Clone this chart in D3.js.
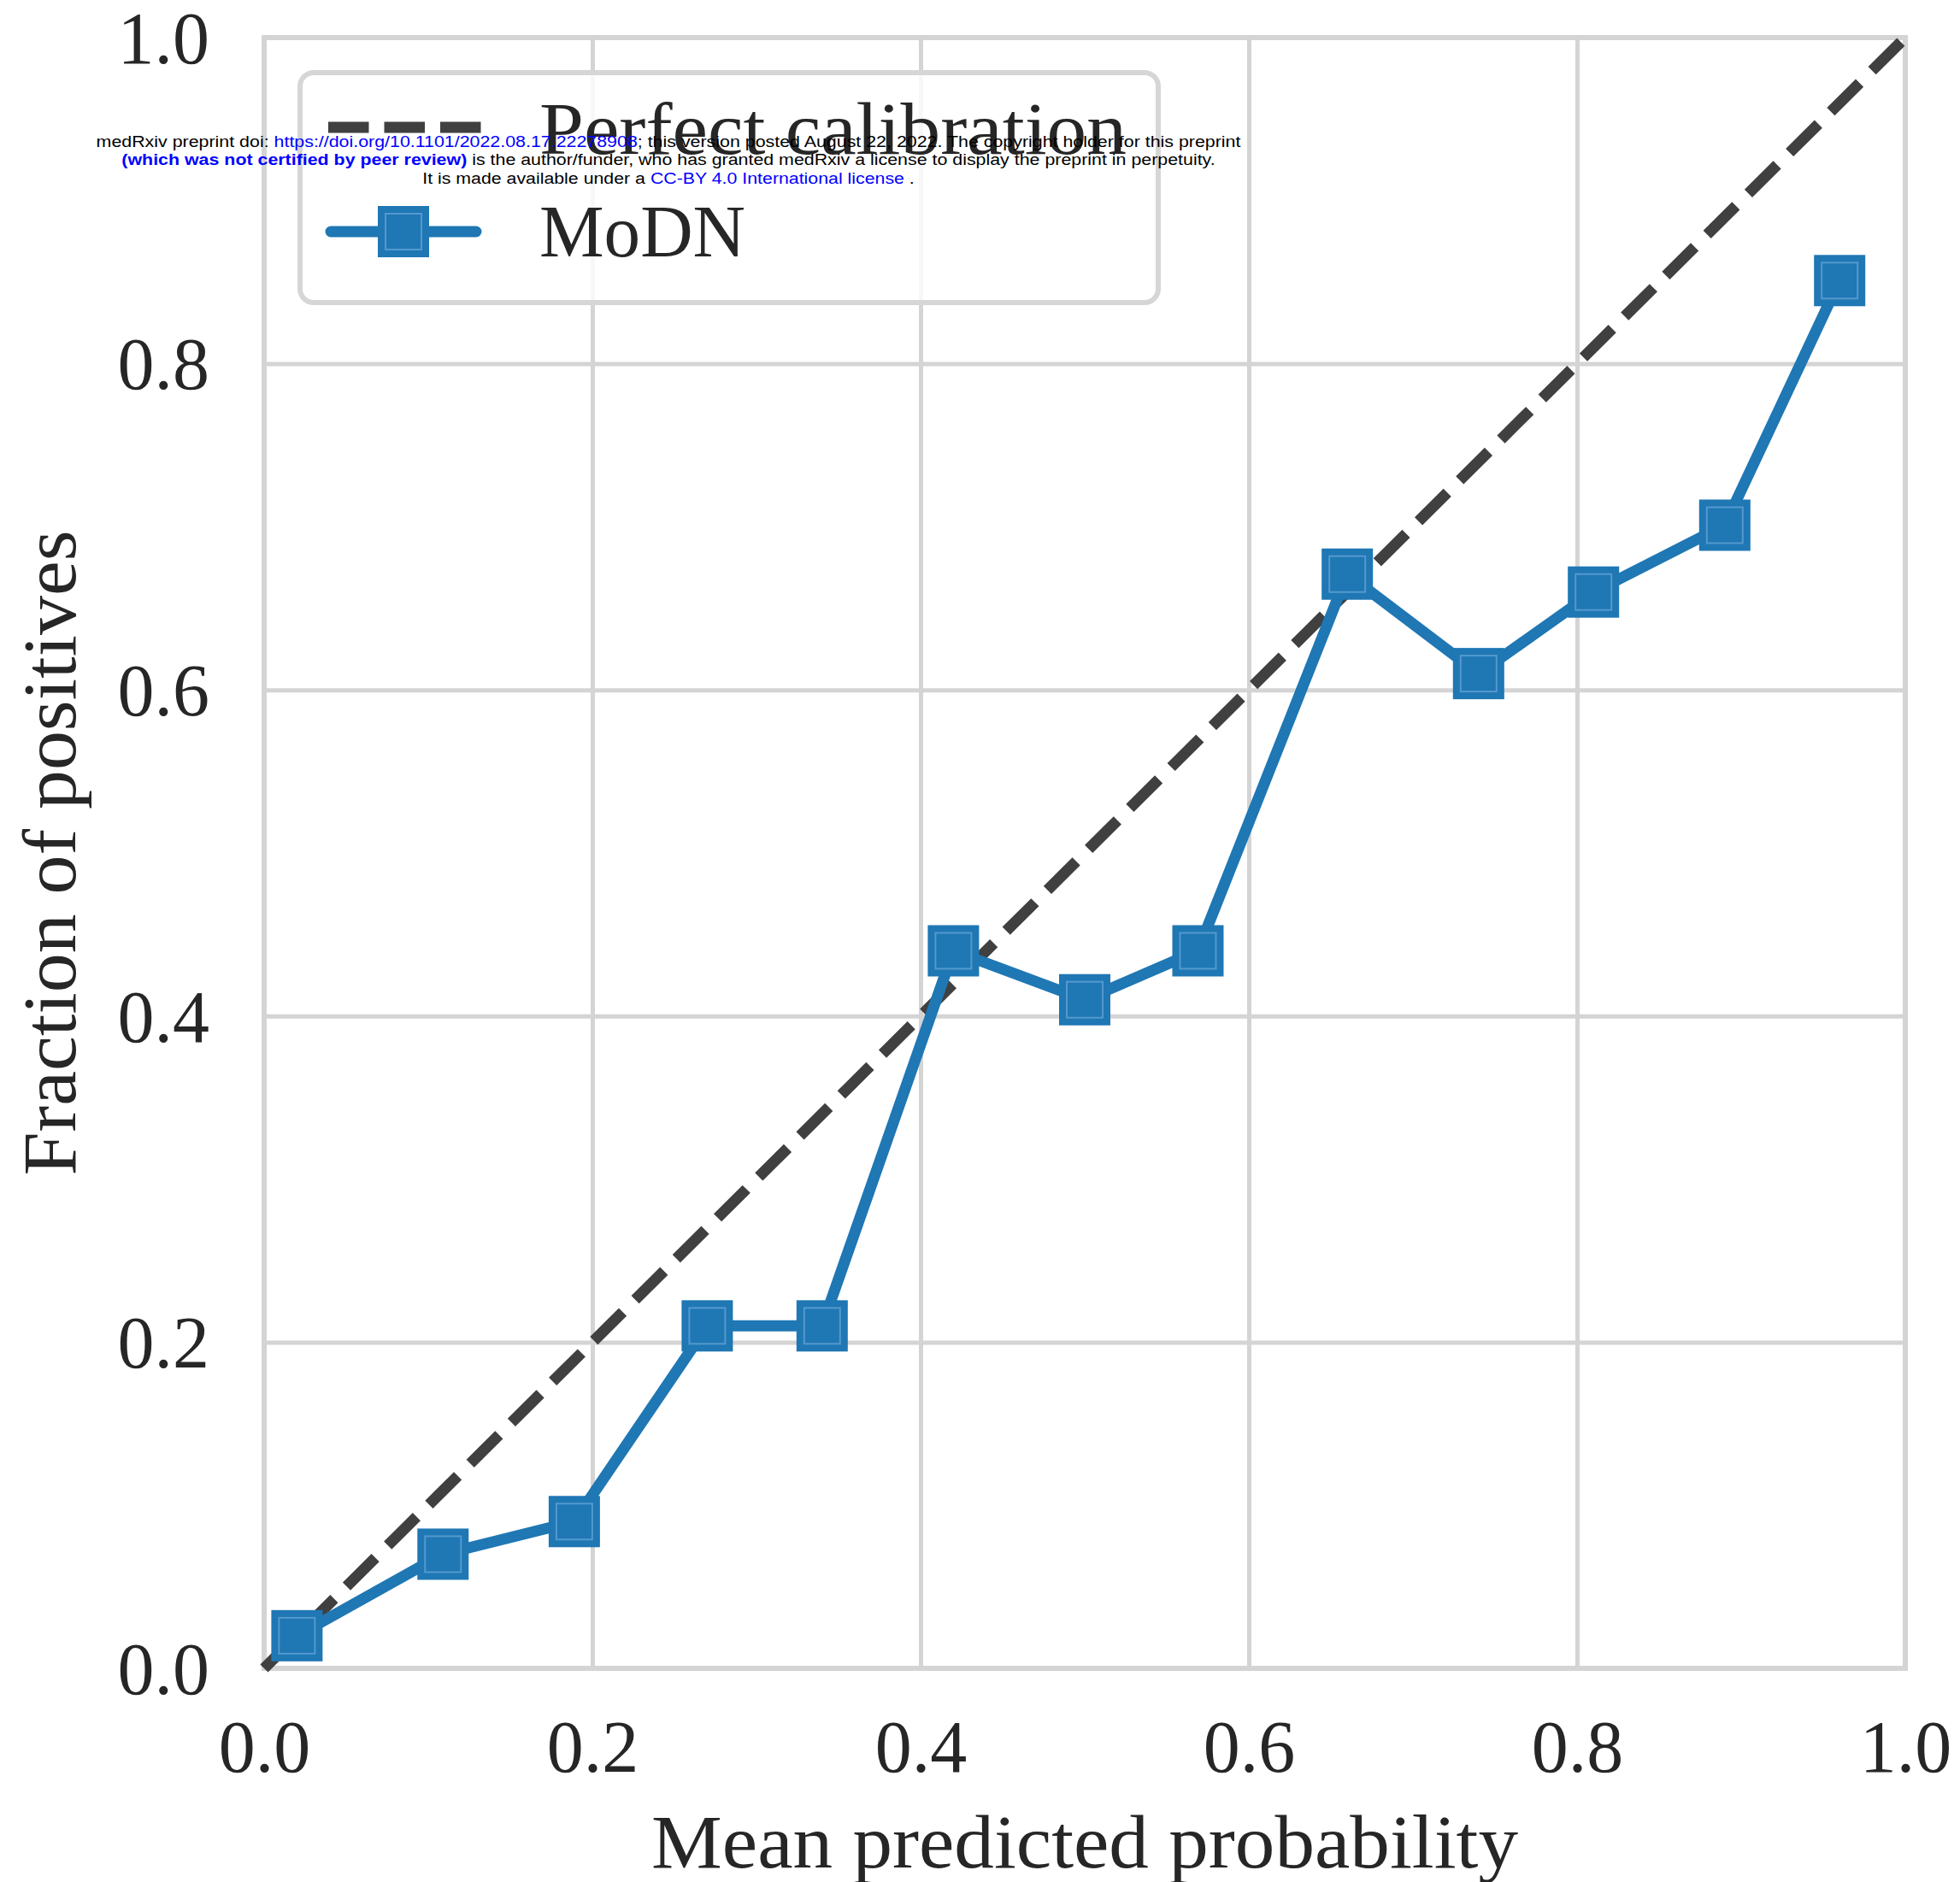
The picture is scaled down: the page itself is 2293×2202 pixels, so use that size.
<!DOCTYPE html>
<html>
<head>
<meta charset="utf-8">
<script src="https://cdn.jsdelivr.net/npm/d3@7"></script>
<style>
  body { margin: 0; background: #fff; }
  svg { display: block; }
</style>
</head>
<body>
<div id="chart"></div>
<script>
//values
var meanPredicted = [0.020, 0.109, 0.189, 0.270, 0.340, 0.420, 0.500, 0.569, 0.660, 0.740, 0.810, 0.890, 0.960];
var fractionPositives = [0.020, 0.070, 0.090, 0.210, 0.210, 0.440, 0.410, 0.440, 0.671, 0.610, 0.660, 0.701, 0.851];
var perfectX = [0, 1];
var perfectY = [0, 1];
var tickValues = [0, 0.2, 0.4, 0.6, 0.8, 1.0];
var seriesNames = ["Perfect calibration", "MoDN"];
var xTitle = "Mean predicted probability";
var yTitle = "Fraction of positives";

//medRxiv stamp, one array per line: [text, colour, bold]
var stampLine1 = [["medRxiv preprint doi: ", "#000", false], ["https://doi.org/10.1101/2022.08.17.22278908", "#0000ff", false], ["; this version posted August 22, 2022. The copyright holder for this preprint", "#000", false]];
var stampLine2 = [["(which was not certified by peer review)", "#0000ff", true], [" is the author/funder, who has granted medRxiv a license to display the preprint in perpetuity.", "#000", false]];
var stampLine3 = [["It is made available under a ", "#000", false], ["CC-BY 4.0 International license", "#0000ff", false], [" .", "#000", false]];

var width = 2293;
var height = 2202;
//plot box (note: "top" is taken by window.top, so prefixed names)
var plotLeft = 309, plotRight = 2229, plotTop = 44, plotBottom = 1952;
var blue = "#1f77b4";
var gridColor = "#d4d4d4";
var textColor = "#262626";
var serif = "'Liberation Serif', 'Times New Roman', serif";

var svg = d3.select("#chart")
    .append("svg")
    .attr("width", width)
    .attr("height", height);

var x = d3.scaleLinear().domain([0, 1]).range([plotLeft, plotRight]);
var y = d3.scaleLinear().domain([0, 1]).range([plotBottom, plotTop]);

//grid lines
svg.append("g")
    .attr("transform", "translate(0," + plotBottom + ")")
    .call(d3.axisBottom(x).tickValues(tickValues).tickSize(-(plotBottom - plotTop)).tickFormat(""))
    .call(function (g) { g.select(".domain").remove(); })
    .selectAll("line")
        .attr("stroke", gridColor)
        .attr("stroke-width", 5);

svg.append("g")
    .attr("transform", "translate(" + plotLeft + ",0)")
    .call(d3.axisLeft(y).tickValues(tickValues).tickSize(-(plotRight - plotLeft)).tickFormat(""))
    .call(function (g) { g.select(".domain").remove(); })
    .selectAll("line")
        .attr("stroke", gridColor)
        .attr("stroke-width", 5);

//frame
svg.append("rect")
    .attr("x", plotLeft)
    .attr("y", plotTop)
    .attr("width", plotRight - plotLeft)
    .attr("height", plotBottom - plotTop)
    .attr("fill", "none")
    .attr("stroke", gridColor)
    .attr("stroke-width", 6);

//tick labels
var xAxis = svg.append("g")
    .attr("transform", "translate(0," + plotBottom + ")")
    .call(d3.axisBottom(x).tickValues(tickValues).tickSize(0).tickFormat(d3.format(".1f")));
xAxis.select(".domain").remove();
xAxis.selectAll("text")
    .attr("y", 121)
    .attr("dy", null)
    .attr("fill", textColor)
    .style("font-family", serif)
    .style("font-size", "86px");

var yAxis = svg.append("g")
    .attr("transform", "translate(" + plotLeft + ",0)")
    .call(d3.axisLeft(y).tickValues(tickValues).tickSize(0).tickPadding(64).tickFormat(d3.format(".1f")));
yAxis.select(".domain").remove();
yAxis.selectAll("text")
    .attr("dy", "0.34em")
    .attr("fill", textColor)
    .style("font-family", serif)
    .style("font-size", "86px");

//axis titles
svg.append("text")
    .attr("x", (plotLeft + plotRight) / 2)
    .attr("y", 2185)
    .attr("text-anchor", "middle")
    .attr("textLength", 1014)
    .attr("lengthAdjust", "spacingAndGlyphs")
    .attr("fill", textColor)
    .style("font-family", serif)
    .style("font-size", "88px")
    .text(xTitle);

svg.append("text")
    .attr("transform", "translate(88," + (plotTop + plotBottom) / 2 + ") rotate(-90)")
    .attr("text-anchor", "middle")
    .attr("textLength", 755)
    .attr("lengthAdjust", "spacingAndGlyphs")
    .attr("fill", textColor)
    .style("font-family", serif)
    .style("font-size", "88px")
    .text(yTitle);

//perfect calibration diagonal
var diag = d3.line()
    .x(function (d, i) { return x(perfectX[i]); })
    .y(function (d, i) { return y(perfectY[i]); });

svg.append("path")
    .datum(perfectX)
    .attr("d", diag)
    .attr("fill", "none")
    .attr("stroke", "#404040")
    .attr("stroke-width", 13)
    .attr("stroke-dasharray", "47.5,20.5");

//model curve
var curve = d3.line()
    .x(function (d, i) { return x(meanPredicted[i]); })
    .y(function (d, i) { return y(fractionPositives[i]); });

svg.append("path")
    .datum(meanPredicted)
    .attr("d", curve)
    .attr("fill", "none")
    .attr("stroke", blue)
    .attr("stroke-width", 13)
    .attr("stroke-linejoin", "round")
    .attr("stroke-linecap", "round");

var markerSize = 60;
function drawMarker(g, cx, cy) {
    g.append("rect")
        .attr("x", cx - markerSize / 2)
        .attr("y", cy - markerSize / 2)
        .attr("width", markerSize)
        .attr("height", markerSize)
        .attr("fill", blue);
    g.append("rect")
        .attr("x", cx - markerSize / 2 + 9)
        .attr("y", cy - markerSize / 2 + 9)
        .attr("width", markerSize - 18)
        .attr("height", markerSize - 18)
        .attr("fill", "none")
        .attr("stroke", "#6aa8d8")
        .attr("stroke-width", 2)
        .attr("opacity", 0.7);
}

var markers = svg.append("g");
meanPredicted.forEach(function (d, i) {
    drawMarker(markers, x(d), y(fractionPositives[i]));
});

//legend
var legend = svg.append("g");
legend.append("rect")
    .attr("x", 351)
    .attr("y", 85)
    .attr("width", 1004)
    .attr("height", 269)
    .attr("rx", 16)
    .attr("fill", "#fff")
    .attr("fill-opacity", 0.8)
    .attr("stroke", "#d6d6d6")
    .attr("stroke-width", 6);

legend.append("line")
    .attr("x1", 384).attr("x2", 563)
    .attr("y1", 149).attr("y2", 149)
    .attr("stroke", "#404040")
    .attr("stroke-width", 13)
    .attr("stroke-dasharray", "47.5,18");

legend.append("line")
    .attr("x1", 387).attr("x2", 557)
    .attr("y1", 271).attr("y2", 271)
    .attr("stroke", blue)
    .attr("stroke-width", 13)
    .attr("stroke-linecap", "round");
drawMarker(legend, 472, 271);

legend.selectAll("text.entry")
    .data(seriesNames)
    .enter().append("text")
        .attr("class", "entry")
        .attr("x", 631)
        .attr("y", function (d, i) { return i == 0 ? 180 : 300; })
        .attr("textLength", function (d, i) { return i == 0 ? 687 : 241; })
        .attr("lengthAdjust", "spacingAndGlyphs")
        .attr("fill", textColor)
        .style("font-family", serif)
        .style("font-size", "86px")
        .text(function (d) { return d; });

//medRxiv stamp on top of everything
var stamp = [
    { parts: stampLine1, baseline: 172, width: 1340 },
    { parts: stampLine2, baseline: 193, width: 1280 },
    { parts: stampLine3, baseline: 215, width: 576 }
];
stamp.forEach(function (line) {
    var g = svg.append("g");
    var t = g.append("text")
        .attr("text-anchor", "middle")
        .style("font-family", "'Liberation Sans', Arial, sans-serif")
        .style("font-size", "19px");
    line.parts.forEach(function (p) {
        t.append("tspan")
            .attr("fill", p[1])
            .style("font-weight", p[2] ? "bold" : "normal")
            .style("white-space", "pre")
            .text(p[0]);
    });
    var w = t.node().getComputedTextLength();
    var k = line.width / w;
    g.attr("transform", "translate(782," + line.baseline + ") scale(" + k + ",1)");
});
</script>
</body>
</html>
